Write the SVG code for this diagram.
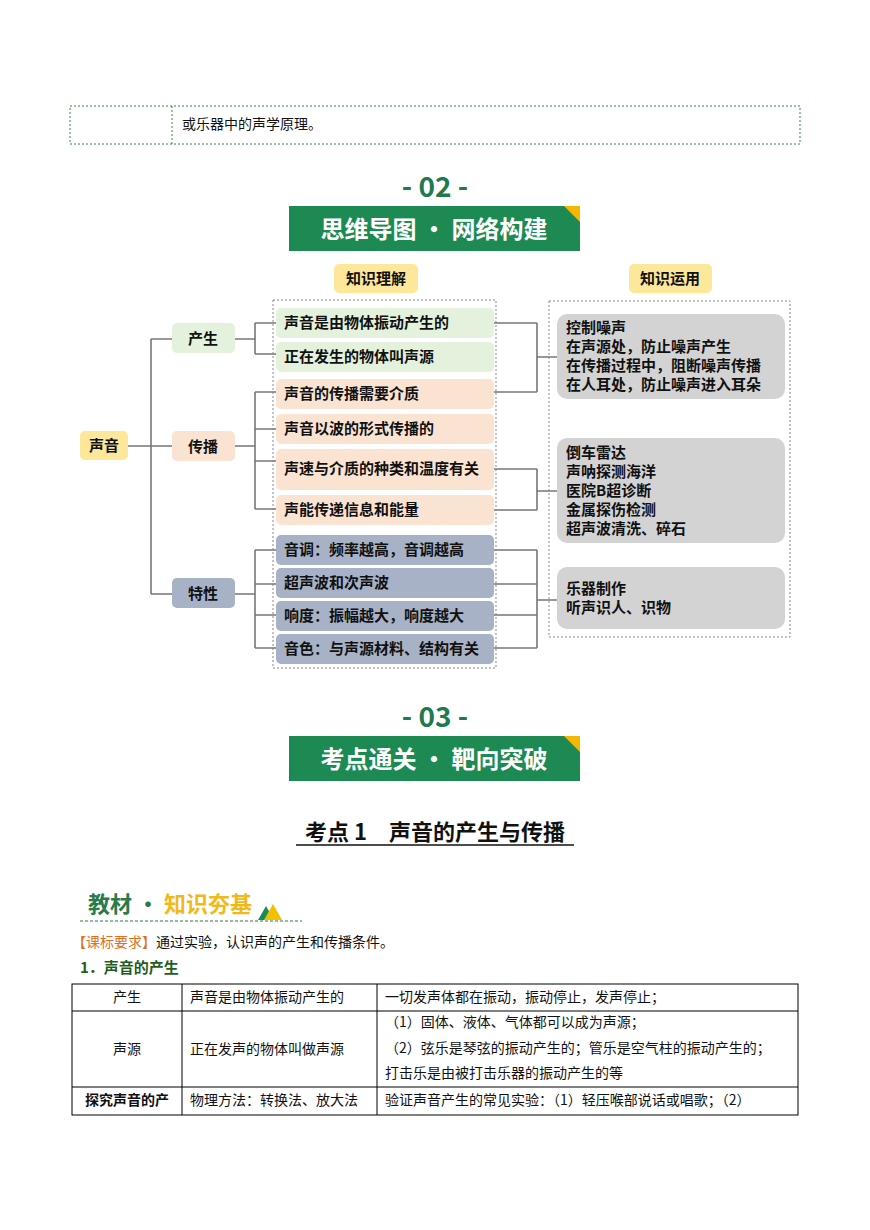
<svg xmlns="http://www.w3.org/2000/svg" width="870" height="1230" viewBox="0 0 870 1230">
<style>
text{font-family:"Noto Sans CJK SC","Noto Sans",sans-serif;}
.s{font-size:14px;fill:#111}
.b{font-weight:bold;font-size:15px;fill:#111}
.ln{fill:none;stroke:#777;stroke-width:1.6}
.g{fill:#e4f1dc}.o{fill:#fbe3d2}.p{fill:#a8b2c6}.gr{fill:#d3d3d3}
.cell{fill:none;stroke:#000;stroke-width:1}
</style>
<rect width="870" height="1230" fill="#fff"/>
<g id="toprow">
<rect x="70" y="106" width="730" height="38" fill="none" stroke="#2e8b3e" stroke-dasharray="2,2"/>
<line x1="172" y1="106" x2="172" y2="144" stroke="#2e8b3e" stroke-dasharray="2,2"/>
<text class="s" x="182" y="129">或乐器中的声学原理。</text>
</g>
<g id="h02">
<text x="435" y="197" text-anchor="middle" font-size="28" font-weight="bold" fill="#1f7a4f">- 02 -</text>
<rect x="289" y="206" width="291" height="45" fill="#1e8a53"/>
<polygon points="564,206 580,206 580,222" fill="#f5b800"/>
<text x="434" y="238" text-anchor="middle" font-size="24" font-weight="bold" fill="#fff">思维导图 · 网络构建</text>
</g>
<g id="lab1"><rect x="334" y="264" width="84" height="29" rx="5" fill="#fce79a"/><text class="b" x="376" y="284" text-anchor="middle">知识理解</text></g>
<g id="lab2"><rect x="629" y="264" width="83" height="29" rx="5" fill="#fce79a"/><text class="b" x="670" y="284" text-anchor="middle">知识运用</text></g>
<g id="connectors">
<path class="ln" d="M128 446H151M151 339V594M151 339H172M151 446H172M151 594H172"/>
<path class="ln" d="M235 339H255M255 323V354M255 323H276M255 354H276"/>
<path class="ln" d="M235 446H255M255 392V509M255 392H276M255 429H276M255 461H276M255 509H276"/>
<path class="ln" d="M235 594H255M255 550V648M255 550H276M255 584H276M255 615H276M255 648H276"/>
<path class="ln" d="M494 323H537M494 392H537M537 323V392M537 357H557"/>
<path class="ln" d="M494 469H537M494 510H537M537 469V510M537 491H557"/>
<path class="ln" d="M494 550H537M494 584H537M494 615H537M494 648H537M537 550V648M537 600H557"/>
</g>
<g id="c1"><rect x="273" y="300" width="223" height="368" fill="none" stroke="#888" stroke-dasharray="2,2"/></g>
<g id="c2"><rect x="549" y="301" width="241" height="336" fill="none" stroke="#888" stroke-dasharray="2,2"/></g>
<g id="n0"><rect x="80" y="431" width="48" height="29" rx="5" fill="#fce79a"/><text class="b" x="104" y="451" text-anchor="middle">声音</text></g>
<g id="n1"><rect x="172" y="323" width="63" height="30" rx="5" class="g"/><text class="b" x="203" y="344" text-anchor="middle">产生</text></g>
<g id="n2"><rect x="172" y="431" width="63" height="30" rx="5" class="o"/><text class="b" x="203" y="452" text-anchor="middle">传播</text></g>
<g id="n3"><rect x="172" y="578" width="63" height="30" rx="5" class="p"/><text class="b" x="203" y="599" text-anchor="middle">特性</text></g>
<g id="i1"><rect x="276" y="308" width="218" height="30" rx="5" class="g"/><text class="b" x="284" y="328">声音是由物体振动产生的</text></g>
<g id="i2"><rect x="276" y="342" width="218" height="30" rx="5" class="g"/><text class="b" x="284" y="362">正在发生的物体叫声源</text></g>
<g id="i3"><rect x="276" y="379" width="218" height="30" rx="5" class="o"/><text class="b" x="284" y="399">声音的传播需要介质</text></g>
<g id="i4"><rect x="276" y="414" width="218" height="30" rx="5" class="o"/><text class="b" x="284" y="434">声音以波的形式传播的</text></g>
<g id="i5"><rect x="276" y="449" width="218" height="41" rx="5" class="o"/><text class="b" x="284" y="474">声速与介质的种类和温度有关</text></g>
<g id="i6"><rect x="276" y="495" width="218" height="30" rx="5" class="o"/><text class="b" x="284" y="515">声能传递信息和能量</text></g>
<g id="i7"><rect x="276" y="535" width="218" height="30" rx="5" class="p"/><text class="b" x="284" y="555">音调：频率越高，音调越高</text></g>
<g id="i8"><rect x="276" y="568" width="218" height="30" rx="5" class="p"/><text class="b" x="284" y="588">超声波和次声波</text></g>
<g id="i9"><rect x="276" y="601" width="218" height="30" rx="5" class="p"/><text class="b" x="284" y="621">响度：振幅越大，响度越大</text></g>
<g id="i10"><rect x="276" y="634" width="218" height="30" rx="5" class="p"/><text class="b" x="284" y="654">音色：与声源材料、结构有关</text></g>
<g id="r1"><rect x="557" y="314" width="228" height="85" rx="10" class="gr"/>
<text class="b" x="566" y="333">控制噪声</text><text class="b" x="566" y="352">在声源处，防止噪声产生</text><text class="b" x="566" y="371">在传播过程中，阻断噪声传播</text><text class="b" x="566" y="390">在人耳处，防止噪声进入耳朵</text></g>
<g id="r2"><rect x="557" y="438" width="228" height="105" rx="10" class="gr"/>
<text class="b" x="566" y="458">倒车雷达</text><text class="b" x="566" y="477">声呐探测海洋</text><text class="b" x="566" y="496">医院B超诊断</text><text class="b" x="566" y="515">金属探伤检测</text><text class="b" x="566" y="534">超声波清洗、碎石</text></g>
<g id="r3"><rect x="557" y="567" width="228" height="62" rx="10" class="gr"/>
<text class="b" x="566" y="594">乐器制作</text><text class="b" x="566" y="613">听声识人、识物</text></g>
<g id="h03">
<text x="435" y="727" text-anchor="middle" font-size="28" font-weight="bold" fill="#1f7a4f">- 03 -</text>
<rect x="289" y="736" width="291" height="45" fill="#1e8a53"/>
<polygon points="564,736 580,736 580,752" fill="#f5b800"/>
<text x="434" y="768" text-anchor="middle" font-size="24" font-weight="bold" fill="#fff">考点通关 · 靶向突破</text>
</g>
<g id="title">
<text x="435" y="840" text-anchor="middle" font-size="22" font-weight="bold" fill="#111">考点 1　声音的产生与传播</text>
<line x1="296" y1="845" x2="574" y2="845" stroke="#111" stroke-width="1.5"/>
</g>
<g id="jc">
<text x="88" y="912" font-size="22" font-weight="bold" fill="#2a7a4a">教材 · <tspan fill="#f2b81a">知识夯基</tspan></text>
<line x1="80" y1="921" x2="302" y2="921" stroke="#2a7a4a" stroke-dasharray="3,2"/>
<polygon points="258,920 266,906 274,920" fill="#1e8a53"/><polygon points="264,920 273,904 282,920" fill="#f2c000"/>
</g>
<text class="s" x="72" y="947"><tspan fill="#e0701e">【课标要求】</tspan>通过实验，认识声的产生和传播条件。</text>
<text x="80" y="973" font-size="15" font-weight="bold" fill="#1d5e1d">1．声音的产生</text>
<g id="table">
<rect x="72" y="984" width="726" height="131" class="cell"/>
<line x1="72" y1="1011" x2="798" y2="1011" stroke="#000"/>
<line x1="72" y1="1087" x2="798" y2="1087" stroke="#000"/>
<line x1="182" y1="984" x2="182" y2="1115" stroke="#000"/>
<line x1="377" y1="984" x2="377" y2="1115" stroke="#000"/>
<text class="s" x="127" y="1002" text-anchor="middle">产生</text>
<text class="s" x="190" y="1002">声音是由物体振动产生的</text>
<text class="s" x="385" y="1002">一切发声体都在振动，振动停止，发声停止；</text>
<text class="s" x="127" y="1054" text-anchor="middle">声源</text>
<text class="s" x="190" y="1054">正在发声的物体叫做声源</text>
<text class="s" x="385" y="1027">（1）固体、液体、气体都可以成为声源；</text>
<text class="s" x="385" y="1053">（2）弦乐是琴弦的振动产生的；管乐是空气柱的振动产生的；</text>
<text class="s" x="385" y="1078">打击乐是由被打击乐器的振动产生的等</text>
<text class="s" x="127" y="1105" text-anchor="middle" font-weight="bold">探究声音的产</text>
<text class="s" x="190" y="1105">物理方法：转换法、放大法</text>
<text class="s" x="385" y="1105">验证声音产生的常见实验：（1）轻压喉部说话或唱歌；（2）</text>
</g>
</svg>
